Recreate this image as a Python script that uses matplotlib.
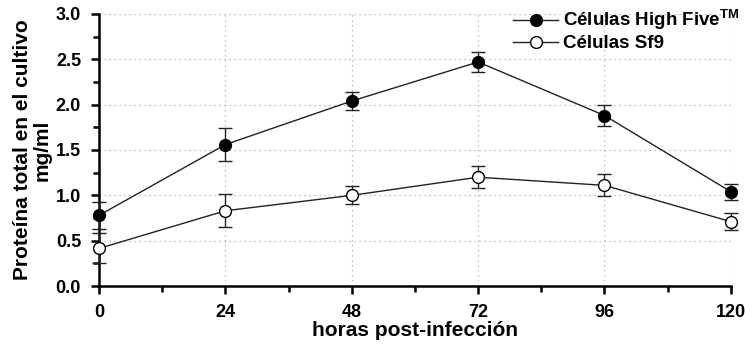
import numpy as np
import matplotlib
matplotlib.use('Agg')
import matplotlib.pyplot as plt
from matplotlib.ticker import MultipleLocator
from matplotlib.lines import Line2D

plt.rcParams['font.family'] = 'Liberation Sans'
plt.rcParams['font.weight'] = 'bold'
plt.rcParams['mathtext.fontset'] = 'custom'
plt.rcParams['mathtext.bf'] = 'Liberation Sans:bold'
plt.rcParams['mathtext.rm'] = 'Liberation Sans:bold'

hours = [0, 24, 48, 72, 96, 120]
high_five = [0.78, 1.56, 2.04, 2.47, 1.88, 1.04]
high_five_err = [0.15, 0.18, 0.10, 0.11, 0.12, 0.09]
sf9 = [0.415, 0.83, 1.00, 1.20, 1.11, 0.71]
sf9_err = [0.165, 0.18, 0.10, 0.12, 0.12, 0.09]

fig = plt.figure(figsize=(7.45, 3.48), dpi=100)
ax = fig.add_axes([0.133, 0.178, 0.848, 0.782])

ax.errorbar(hours, high_five, yerr=high_five_err, color='#222222', lw=1.0,
            marker='o', ms=8.5, mfc='black', mec='black', capsize=5, capthick=1.0,
            elinewidth=1.0, clip_on=False, zorder=4)
ax.errorbar(hours, sf9, yerr=sf9_err, color='#222222', lw=1.0,
            marker='o', ms=8.5, mfc='white', mec='black', mew=1.0, capsize=5,
            capthick=1.0, elinewidth=1.0, clip_on=False, zorder=4)

ax.set_xlim(0, 120)
ax.set_ylim(0, 3.0)
ax.xaxis.set_major_locator(MultipleLocator(24))
ax.xaxis.set_minor_locator(MultipleLocator(12))
ax.yaxis.set_major_locator(MultipleLocator(0.5))
ax.yaxis.set_minor_locator(MultipleLocator(0.25))
ax.yaxis.set_major_formatter(plt.FormatStrFormatter('%.1f'))

ax.grid(True, which='major', linestyle=(0, (1, 3)), color='#aaaaaa', lw=0.9)
ax.spines['top'].set_visible(False)
ax.spines['right'].set_visible(False)
ax.spines['left'].set_linewidth(1.8)
ax.spines['bottom'].set_linewidth(1.8)
ax.tick_params(which='major', direction='out', length=6, width=1.8, labelsize=13, pad=7)
ax.tick_params(which='minor', direction='out', length=4, width=1.8)

ax.set_xlabel('horas post-infección', fontsize=15, fontweight='bold', labelpad=0)
ax.set_ylabel('Proteína total en el cultivo\nmg/ml', fontsize=15, fontweight='bold',
              linespacing=1.0, labelpad=3)

# legend shows only line + marker, no error bars
handles = [
    Line2D([], [], color='#222222', lw=1.0, marker='o', ms=8.5, mfc='black', mec='black'),
    Line2D([], [], color='#222222', lw=1.0, marker='o', ms=8.5, mfc='white', mec='black'),
]
labels = [r'Células High Five$^{\mathbf{TM}}$', 'Células Sf9']
leg = ax.legend(handles, labels, loc='upper right', bbox_to_anchor=(1.04, 1.085),
                frameon=False, fontsize=13.5, handlelength=2.4, handletextpad=0.25,
                labelspacing=0.15)

fig.savefig('out.png', dpi=100)
